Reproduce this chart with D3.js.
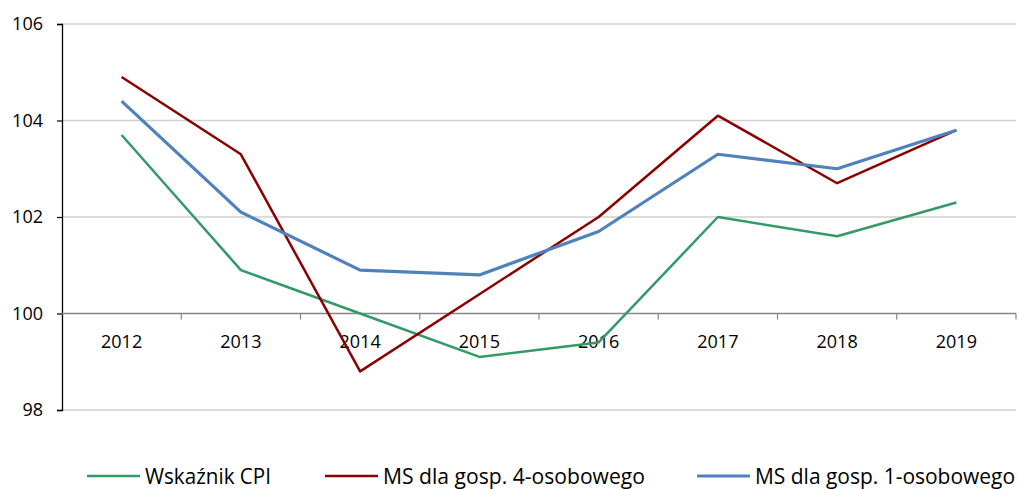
<!DOCTYPE html>
<html>
<head>
<meta charset="utf-8">
<script src="https://cdn.jsdelivr.net/npm/d3@7"></script>
<style>
  body { margin: 0; background: #fff; }
  text { font-family: "Open Sans", sans-serif; fill: #000; }
</style>
</head>
<body>
<script>
// Data ----------------------------------------------------------------------
var years = ["2012", "2013", "2014", "2015", "2016", "2017", "2018", "2019"];
var cpi = [103.7, 100.9, 100.0, 99.1, 99.4, 102.0, 101.6, 102.3];
var ms4 = [104.9, 103.3, 98.8, 100.4, 102.0, 104.1, 102.7, 103.8];
var ms1 = [104.4, 102.1, 100.9, 100.8, 101.7, 103.3, 103.0, 103.8];
var yTicks = [98, 100, 102, 104, 106];
var seriesNames = ["Wskaźnik CPI", "MS dla gosp. 4-osobowego", "MS dla gosp. 1-osobowego"];

var series = [
    {name: seriesNames[0], values: cpi, color: "#339966", width: 2.5},
    {name: seriesNames[1], values: ms4, color: "#8b0000", width: 2.5},
    {name: seriesNames[2], values: ms1, color: "#4f81bd", width: 3.2}
];

// Plot area
var W = 1019, H = 489;
var plot = {left: 62, right: 1016, top: 24, bottom: 410};

var svg = d3.select("body").append("svg")
    .attr("width", W)
    .attr("height", H);

// Scales
var x = d3.scaleBand().domain(years).range([plot.left, plot.right]);
var y = d3.scaleLinear().domain([98, 106]).range([plot.bottom, plot.top]);

// Gridlines (not at 100, that one is the x axis)
svg.append("g")
    .selectAll("line")
    .data(yTicks.filter(function(d) { return d != 100; }))
    .enter().append("line")
    .attr("x1", plot.left).attr("x2", plot.right)
    .attr("y1", function(d) { return y(d); })
    .attr("y2", function(d) { return y(d); })
    .attr("stroke", "#d0d0d0")
    .attr("stroke-width", 1.6);

// Y axis
var yAxis = svg.append("g")
    .attr("transform", "translate(" + plot.left + ",0)")
    .call(d3.axisLeft(y).tickValues(yTicks).tickSize(5).tickPadding(14).tickFormat(d3.format("d")));
yAxis.select(".domain").attr("stroke", "#000").attr("stroke-width", 1.3);
yAxis.selectAll(".tick line").attr("stroke", "#000").attr("stroke-width", 1.2);
yAxis.selectAll("text")
    .attr("font-size", "18px")
    .attr("font-family", "Open Sans");

// X axis at 100
var xAxisY = y(100);
svg.append("line")
    .attr("x1", plot.left).attr("x2", plot.right)
    .attr("y1", xAxisY).attr("y2", xAxisY)
    .attr("stroke", "#868686")
    .attr("stroke-width", 1.5);

// tick marks at category boundaries
var bounds = years.map(function(d) { return x(d) + x.bandwidth(); });
svg.append("g")
    .selectAll("line")
    .data(bounds)
    .enter().append("line")
    .attr("x1", function(d) { return d; })
    .attr("x2", function(d) { return d; })
    .attr("y1", xAxisY)
    .attr("y2", xAxisY + 6)
    .attr("stroke", "#868686")
    .attr("stroke-width", 1.2);

svg.append("g")
    .selectAll("text")
    .data(years)
    .enter().append("text")
    .attr("x", function(d) { return x(d) + x.bandwidth() / 2; })
    .attr("y", xAxisY + 34)
    .attr("text-anchor", "middle")
    .attr("font-size", "18px")
    .text(function(d) { return d; });

// Lines
var line = d3.line()
    .x(function(d, i) { return x(years[i]) + x.bandwidth() / 2; })
    .y(function(d) { return y(d); });

svg.append("g")
    .selectAll("path")
    .data(series)
    .enter().append("path")
    .attr("d", function(s) { return line(s.values); })
    .attr("fill", "none")
    .attr("stroke", function(s) { return s.color; })
    .attr("stroke-width", function(s) { return s.width; })
    .attr("stroke-linejoin", "round");

// Legend
var legendX = [87, 325, 697];
var legendW = [126, 262, 260];
var legend = svg.append("g")
    .selectAll("g")
    .data(series)
    .enter().append("g")
    .attr("transform", function(s, i) { return "translate(" + legendX[i] + ",476)"; });

legend.append("line")
    .attr("x1", 0).attr("x2", 53)
    .attr("y1", 0).attr("y2", 0)
    .attr("stroke", function(s) { return s.color; })
    .attr("stroke-width", function(s) { return s.width; });

legend.append("text")
    .attr("x", 58)
    .attr("y", 7.5)
    .attr("font-size", "21px")
    .attr("textLength", function(s, i) { return legendW[i]; })
    .attr("lengthAdjust", "spacingAndGlyphs")
    .text(function(s) { return s.name; });
</script>
</body>
</html>
